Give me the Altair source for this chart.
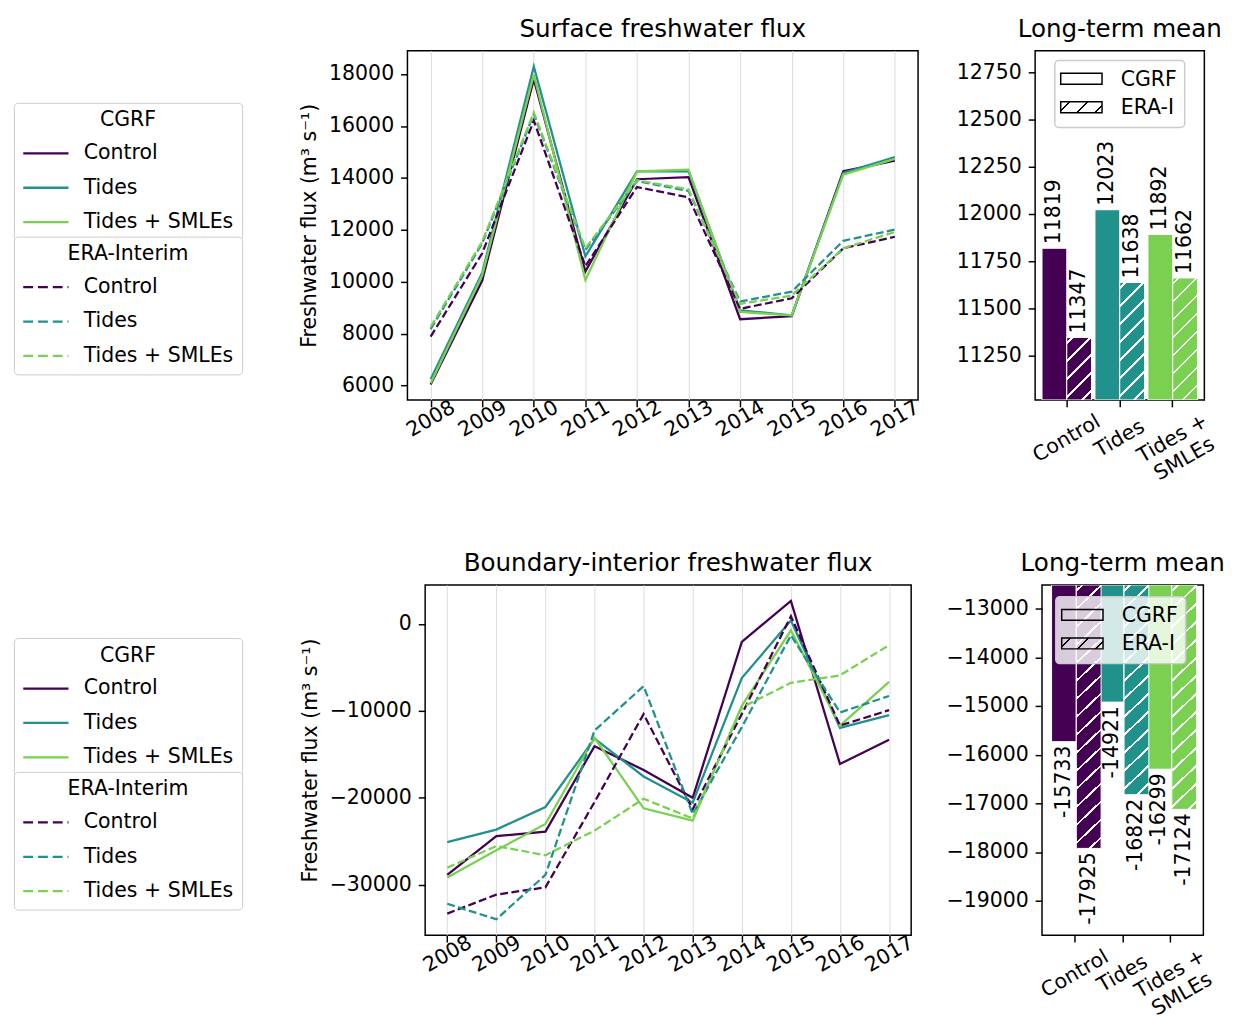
import altair as alt
import pandas as pd

years = [2008, 2009, 2010, 2011, 2012, 2013, 2014, 2015, 2016, 2017]
runs = ["Control", "Tides", "Tides + SMLEs"]
colors = ["#440154", "#21918c", "#7ad151"]
forcings = ["CGRF", "ERA-I"]

# Surface freshwater flux (m3 s-1)
sfc_cgrf_control = [6050, 10050, 17800, 10400, 13950, 14030, 8560, 8680, 14255, 14670]
sfc_cgrf_tides = [6250, 10350, 18290, 10980, 14255, 14255, 8900, 8710, 14190, 14800]
sfc_cgrf_smle = [6090, 10250, 17975, 10070, 14250, 14320, 8840, 8710, 14130, 14735]
sfc_era_control = [7890, 11100, 16210, 10600, 13650, 13250, 8960, 9365, 11290, 11735]
sfc_era_tides = [8180, 11480, 16460, 11230, 13880, 13500, 9240, 9620, 11580, 12010]
sfc_era_smle = [8270, 11550, 16520, 11290, 13910, 13560, 9150, 9470, 11290, 11920]

# Boundary-interior freshwater flux (m3 s-1)
bif_cgrf_control = [-28870, -24420, -23890, -14080, -16800, -20000, -2075, 2640, -16115, -13320]
bif_cgrf_tides = [-25100, -23660, -21060, -13210, -17550, -20570, -6230, 380, -11960, -10490]
bif_cgrf_smle = [-29170, -26040, -23020, -13100, -21210, -22640, -9435, -755, -11700, -6680]
bif_era_control = [-33320, -31135, -30300, -20500, -10380, -21320, -10380, 870, -11700, -9925]
bif_era_tides = [-32190, -33970, -28870, -12265, -7170, -21890, -11890, -1320, -10190, -8300]
bif_era_smle = [-28040, -25550, -26610, -23780, -20115, -22380, -9620, -6790, -5925, -2450]

# Long-term means
mean_sfc_cgrf = [11819, 12023, 11892]
mean_sfc_era = [11347, 11638, 11662]
mean_bif_cgrf = [-15733, -14921, -16299]
mean_bif_era = [-17925, -16822, -17124]

FONT = "DejaVu Sans"
FS = 20.8
YTITLE = "Freshwater flux (m³ s⁻¹)"


def long_df(series):
    rows = []
    for (forcing, run), vals in series.items():
        for yr, v in zip(years, vals):
            rows.append({"year": yr, "value": v, "forcing": forcing, "run": run})
    return pd.DataFrame(rows)


def means_df(cgrf, era):
    rows = []
    for run, c, e in zip(runs, cgrf, era):
        rows.append({"run": run, "forcing": "CGRF", "value": c, "label": str(c)})
        rows.append({"run": run, "forcing": "ERA-I", "value": e, "label": str(e)})
    return pd.DataFrame(rows)


def hatch(color, line_color, w, h, spacing=18.3, lw=2.6, phase=6.0):
    L = w + h
    stops = [alt.GradientStop(offset=0, color=color)]
    c = phase
    while c - lw / 2 < L:
        a = max(0.0, (c - lw / 2) / L)
        b = min(1.0, (c + lw / 2) / L)
        stops += [
            alt.GradientStop(offset=a, color=color),
            alt.GradientStop(offset=a, color=line_color),
            alt.GradientStop(offset=b, color=line_color),
            alt.GradientStop(offset=b, color=color),
        ]
        c += spacing
    stops.append(alt.GradientStop(offset=1, color=color))
    k = L / (w * w + h * h)
    return alt.LinearGradient(gradient="linear", stops=stops, x1=0, y1=0, x2=w * k, y2=h * k)


def legend_cell(df, key, width, height, legy1, legy2):
    xs = alt.X("year:Q", scale=alt.Scale(domain=[0, 1]), axis=None)
    ys = alt.Y("value:Q", scale=alt.Scale(domain=[0, 1]), axis=None)
    solid = alt.Chart(df).transform_filter(alt.datum.forcing == "CGRF").transform_calculate(
        **{"lc_" + key: "datum.run"}
    ).mark_line(strokeWidth=2.3, clip=True).encode(
        x=xs, y=ys,
        color=alt.Color("lc_" + key + ":N", scale=alt.Scale(domain=runs, range=colors),
                        legend=alt.Legend(title="CGRF", orient="none", legendX=0, legendY=legy1)))
    dashed = alt.Chart(df).transform_filter(alt.datum.forcing == "ERA-I").transform_calculate(
        **{"le_" + key: "datum.run"}
    ).mark_line(strokeWidth=2.3, strokeDash=[8, 3.5], clip=True).encode(
        x=xs, y=ys,
        stroke=alt.Stroke("le_" + key + ":N", scale=alt.Scale(domain=runs, range=colors),
                          legend=alt.Legend(title="ERA-Interim", orient="none", legendX=0,
                                            legendY=legy2, symbolDash=[10, 5])))
    return alt.layer(solid, dashed).resolve_scale(color="independent", stroke="independent").properties(
        width=width, height=height, view=alt.ViewBackground(stroke="transparent"))


def line_panel(df, key, title, width, height, ydomain, yticks):
    xenc = alt.X("year:Q", scale=alt.Scale(domain=[2007.55, 2017.45], nice=False, zero=False),
                 axis=alt.Axis(values=years, format="d", title=None, grid=True,
                               gridColor="#dcdcdc", gridWidth=1, labelAngle=-30,
                               labelAlign="center", labelBaseline="middle",
                               labelPadding=12, labelFlush=False, labelOverlap=False))
    yenc = alt.Y("value:Q", scale=alt.Scale(domain=ydomain, nice=False, zero=False),
                 axis=alt.Axis(values=yticks, format="d", title=YTITLE, titlePadding=9))
    solid = alt.Chart(df).transform_filter(alt.datum.forcing == "CGRF").transform_calculate(
        **{"cgrf_" + key: "datum.run"}
    ).mark_line(strokeWidth=2.3, clip=True).encode(
        x=xenc, y=yenc,
        color=alt.Color("cgrf_" + key + ":N", scale=alt.Scale(domain=runs, range=colors), legend=None),
        order="year:Q")
    dashed = alt.Chart(df).transform_filter(alt.datum.forcing == "ERA-I").transform_calculate(
        **{"era_" + key: "datum.run"}
    ).mark_line(strokeWidth=2.3, strokeDash=[8, 3.5], clip=True).encode(
        x=xenc, y=yenc,
        stroke=alt.Stroke("era_" + key + ":N", scale=alt.Scale(domain=runs, range=colors), legend=None),
        order="year:Q")
    return alt.layer(solid, dashed).resolve_scale(color="independent", stroke="independent").properties(
        width=width, height=height, title=title)


def bar_panel(df, key, width, height, ydomain, yticks, pin, pout, top, bx, by):
    step = width / (3 - pin + 2 * pout)
    bw = step * (1 - pin) / 2
    ppu = height / (ydomain[1] - ydomain[0])
    base_y = ydomain[0] if top else ydomain[1]
    xenc = alt.X("run:N", scale=alt.Scale(domain=runs, paddingInner=pin, paddingOuter=pout),
                 axis=alt.Axis(title=None, labelAngle=-30, labelAlign="center",
                               labelBaseline="middle", labelPadding=32, labelLineHeight=24,
                               labelOverlap=False, labelBound=False,
                               labelExpr="datum.value == 'Tides + SMLEs' ? ['Tides +', 'SMLEs'] : datum.value"))
    xoff = alt.XOffset("forcing:N", scale=alt.Scale(domain=forcings, paddingInner=0, paddingOuter=0))
    yenc = alt.Y("value:Q", scale=alt.Scale(domain=ydomain, nice=False, zero=False),
                 axis=alt.Axis(values=yticks, format="d", title=None))
    layers = []
    bars = alt.Chart(df).transform_calculate(**{"bar_" + key: "datum.run"}).mark_bar(
        stroke="white", strokeWidth=1, clip=True).encode(
        x=xenc, xOffset=xoff, y=yenc, y2=alt.datum(base_y),
        color=alt.Color("bar_" + key + ":N", scale=alt.Scale(domain=runs, range=colors), legend=None))
    layers.append(bars)
    for run, col in zip(runs, colors):
        v = df[(df.run == run) & (df.forcing == "ERA-I")]["value"].iloc[0]
        h = abs(v - base_y) * ppu
        hb = alt.Chart(df).transform_filter(
            (alt.datum.run == run) & (alt.datum.forcing == "ERA-I")
        ).mark_bar(fill=hatch(col, "white", bw, h), stroke="white", strokeWidth=1, clip=True).encode(
            x=xenc, xOffset=xoff, y=yenc, y2=alt.datum(base_y))
        layers.append(hb)
    if top:
        txt = alt.Chart(df).mark_text(angle=270, align="left", baseline="middle", dx=4,
                                      fontSize=FS, font=FONT, color="black")
    else:
        txt = alt.Chart(df).mark_text(angle=270, align="right", baseline="middle", dx=-4,
                                      fontSize=FS, font=FONT, color="black")
    layers.append(txt.encode(x=xenc, xOffset=xoff, y=yenc, text="label:N"))

    one = pd.DataFrame({"k": [0]})
    box = alt.Chart(one).mark_rect(fill="white", fillOpacity=0.8, stroke="#cccccc",
                                   strokeWidth=1.5, cornerRadius=4).encode(
        x=alt.value(bx), x2=alt.value(bx + 132), y=alt.value(by), y2=alt.value(by + 68))
    sw1 = alt.Chart(one).mark_rect(fill="rgba(255,255,255,0)", stroke="black", strokeWidth=1.5).encode(
        x=alt.value(bx + 6), x2=alt.value(bx + 48), y=alt.value(by + 13), y2=alt.value(by + 24))
    sw2 = alt.Chart(one).mark_rect(fill=hatch("rgba(255,255,255,0)", "black", 42, 11, spacing=18.3, lw=2.0, phase=9),
                                   stroke="black", strokeWidth=1.5).encode(
        x=alt.value(bx + 6), x2=alt.value(bx + 48), y=alt.value(by + 42), y2=alt.value(by + 53))
    t1 = alt.Chart(one).mark_text(align="left", baseline="middle", fontSize=FS, font=FONT, color="black").encode(
        x=alt.value(bx + 67), y=alt.value(by + 19.5), text=alt.value("CGRF"))
    t2 = alt.Chart(one).mark_text(align="left", baseline="middle", fontSize=FS, font=FONT, color="black").encode(
        x=alt.value(bx + 67), y=alt.value(by + 48.5), text=alt.value("ERA-I"))
    layers += [box, sw1, sw2, t1, t2]
    return alt.layer(*layers).properties(width=width, height=height, title="Long-term mean")


sfc = long_df({
    ("CGRF", "Control"): sfc_cgrf_control, ("CGRF", "Tides"): sfc_cgrf_tides,
    ("CGRF", "Tides + SMLEs"): sfc_cgrf_smle, ("ERA-I", "Control"): sfc_era_control,
    ("ERA-I", "Tides"): sfc_era_tides, ("ERA-I", "Tides + SMLEs"): sfc_era_smle,
})
bif = long_df({
    ("CGRF", "Control"): bif_cgrf_control, ("CGRF", "Tides"): bif_cgrf_tides,
    ("CGRF", "Tides + SMLEs"): bif_cgrf_smle, ("ERA-I", "Control"): bif_era_control,
    ("ERA-I", "Tides"): bif_era_tides, ("ERA-I", "Tides + SMLEs"): bif_era_smle,
})

leg1 = legend_cell(sfc, "a", 255, 355, 53, 189)
leg2 = legend_cell(bif, "b", 261, 356, 54, 190)
line1 = line_panel(sfc, "a", "Surface freshwater flux", 519, 355, [5450, 18900],
                   list(range(6000, 18001, 2000)))
line2 = line_panel(bif, "b", "Boundary-interior freshwater flux", 494, 356, [-35800, 4470],
                   [-30000, -20000, -10000, 0])
bar1 = bar_panel(means_df(mean_sfc_cgrf, mean_sfc_era), "a", 172, 355, [11016, 12865],
                 list(range(11250, 12751, 250)), 0.065, 0.13, True, 20, 10)
bar2 = bar_panel(means_df(mean_bif_cgrf, mean_bif_era), "b", 164, 356, [-19707, -12515],
                 list(range(-19000, -12999, 1000)), 0.02, 0.2, False, 14, 12)

row1 = alt.hconcat(leg1, line1, bar1, spacing=33).resolve_scale(color="independent", stroke="independent")
row2 = alt.hconcat(leg2, line2, bar2, spacing=27).resolve_scale(color="independent", stroke="independent")

chart = alt.vconcat(row1, row2, spacing=64).resolve_scale(
    color="independent", stroke="independent"
).properties(
    padding={"left": 4, "top": 0, "right": 0, "bottom": 0}
).configure(font=FONT).configure_axis(
    labelFont=FONT, titleFont=FONT, labelFontSize=FS, titleFontSize=FS,
    titleFontWeight="normal", labelColor="black", titleColor="black",
    tickColor="black", tickSize=7, tickWidth=1.5, domain=False, labelPadding=7,
    grid=False,
).configure_view(stroke="black", strokeWidth=1.5).configure_title(
    font=FONT, fontSize=25, fontWeight="normal", color="black", anchor="middle",
    frame="group", offset=4, dy=-5, baseline="top",
).configure_legend(
    labelFont=FONT, titleFont=FONT, labelFontSize=FS, titleFontSize=FS,
    titleFontWeight="normal", labelColor="black", titleColor="black",
    symbolType="stroke", symbolSize=2116, symbolStrokeWidth=2.3, labelOffset=14,
    padding=8, rowPadding=-6.5, strokeColor="#cccccc", fillColor="white",
    cornerRadius=4, titleAnchor="middle", titlePadding=-2, titleLimit=400,
)

chart.save("out.html", embed_options={"renderer": "svg", "actions": False})
